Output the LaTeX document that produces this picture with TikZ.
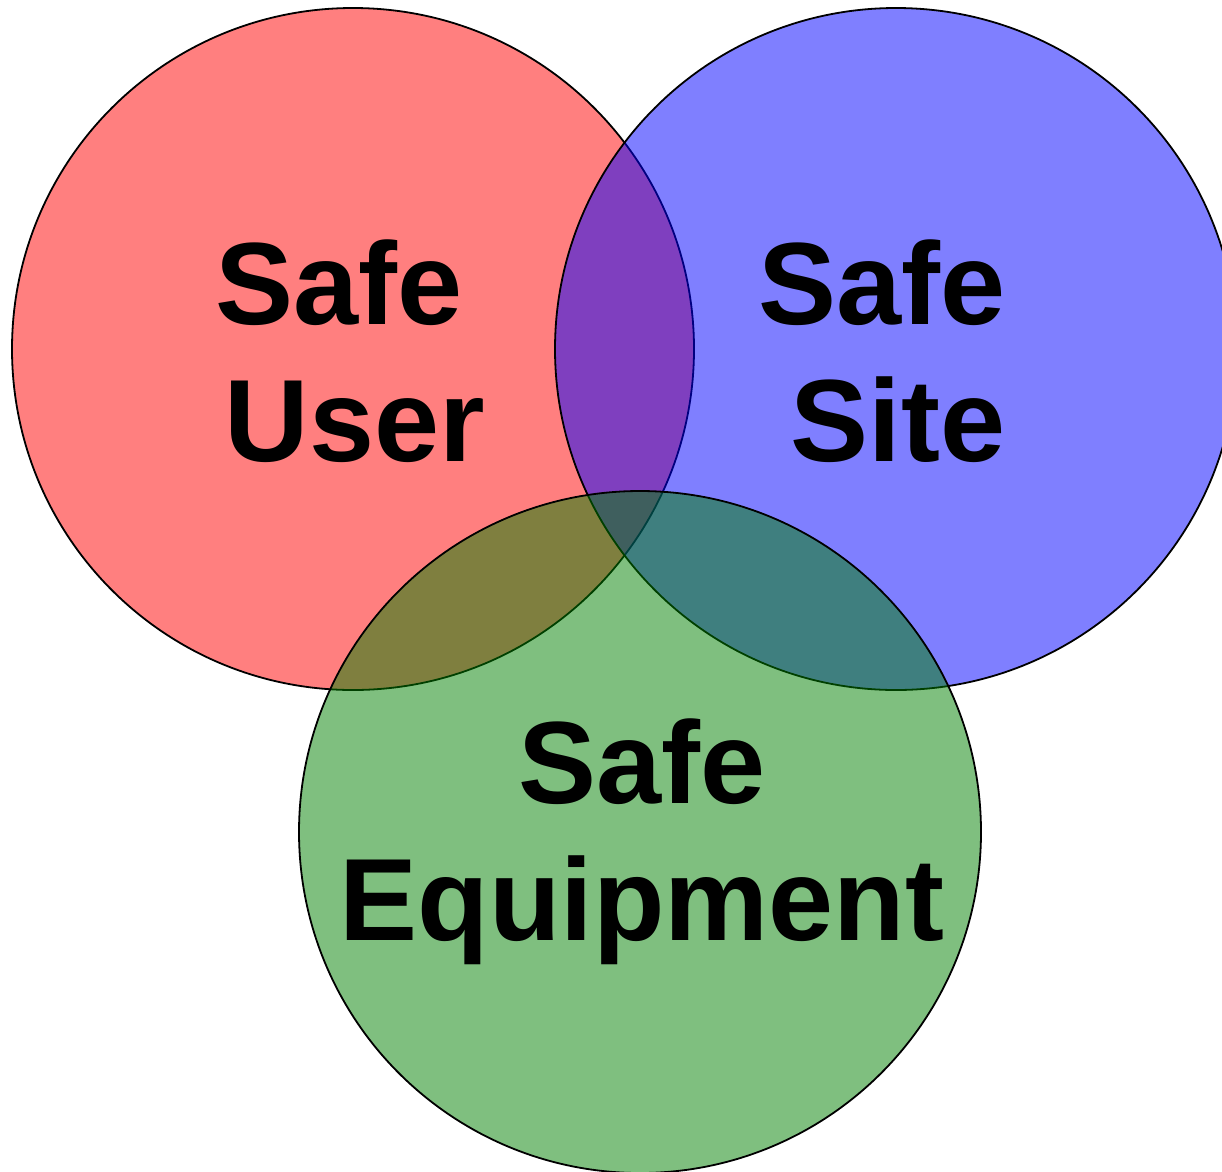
\documentclass[tikz,border=0pt]{standalone}
\usepackage{fontspec}
\setmainfont{Liberation Sans}
\tikzset{
  ring/.style={circle, draw=black, line width=1.8pt, fill opacity=0.5, minimum size=682pt, inner sep=0pt},
  ringtext/.style={align=center, font=\bfseries\fontsize{117}{137}\selectfont, text=black}
}
\begin{document}
\begin{tikzpicture}[x=1pt,y=-1pt]
  \useasboundingbox (0,0) rectangle (1222,1171);
  \clip (0,0) rectangle (1222,1171);
  % Circles
  \node[ring, fill=red] (user) at (353,349) {};
  \node[ring, fill=blue] (site) at (896,349) {};
  \node[ring, fill={rgb,255:red,0;green,128;blue,0}] (equip) at (640,832) {};

  % Labels
  \node[ringtext] (usertext) at (355,351) {Safe\kern.278em\\User};
  \node[ringtext] (sitetext) at (898,351) {Safe\kern.278em\\Site};
  \node[ringtext] (equiptext) at (642,842) {Safe\\Equipment};
\end{tikzpicture}
\end{document}
